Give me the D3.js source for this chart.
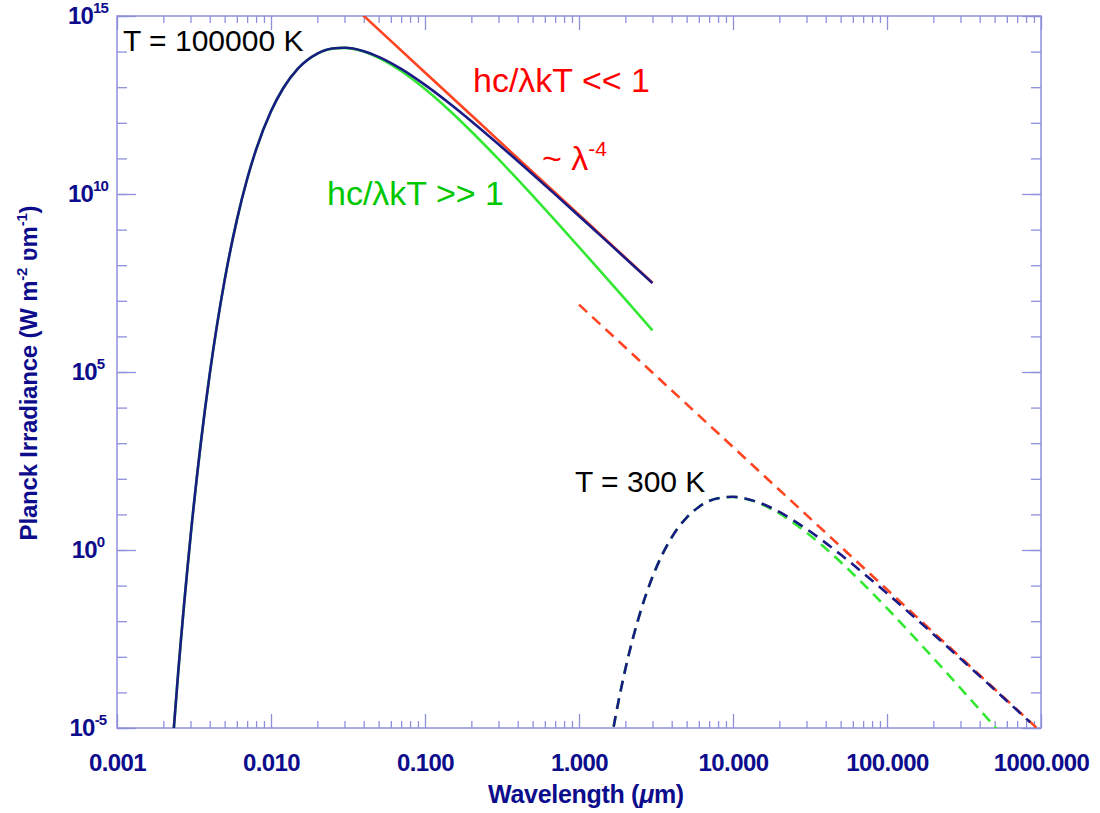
<!DOCTYPE html>
<html>
<head>
<meta charset="utf-8">
<script src="https://cdn.jsdelivr.net/npm/d3@7"></script>
<style>
  body { margin: 0; background: #fff; }
  svg { display: block; font-family: "Liberation Sans", Arial, sans-serif; }
</style>
</head>
<body>
<svg id="chart"></svg>
<script>
// wavelengths (um) and irradiance (W m-2 um-1)
const wlHot = [0.0023, 0.0025, 0.003, 0.0035, 0.004, 0.005, 0.006, 0.007, 0.008, 0.01,
    0.012, 0.015, 0.02, 0.025, 0.03, 0.04, 0.05, 0.07, 0.1, 0.15, 0.2, 0.3, 0.5, 0.7,
    1, 1.5, 2, 3];
const planckHot = [3.94e-6, 3.88e-4, 2.28, 998, 8.75e4, 3.81e7, 1.85e9, 2.64e10, 1.77e11, 2.11e12,
    9.33e12, 3.37e13, 8.79e13, 1.22e14, 1.28e14, 1.03e14, 7.13e13, 3.27e13, 1.16e13, 3.06e12,
    1.11e12, 2.50e11, 3.59e10, 9.75e9, 2.42e9, 4.90e8, 1.57e8, 3.13e7];
const wienHot = [3.94e-6, 3.88e-4, 2.28, 998, 8.75e4, 3.81e7, 1.85e9, 2.64e10, 1.77e11, 2.11e12,
    9.33e12, 3.37e13, 8.79e13, 1.21e14, 1.27e14, 1.00e14, 6.73e13, 2.85e13, 8.87e12, 1.89e12,
    5.70e11, 9.53e10, 8.97e9, 1.81e9, 3.24e8, 4.48e7, 1.09e7, 1.47e6];
const wlRjHot = [0.035, 0.1, 0.3, 1, 3];
const rjHot = [1.73e15, 2.60e13, 3.21e11, 2.60e9, 3.21e7];

const wlCold = [1.6, 1.8, 2, 2.5, 3, 4, 5, 6, 8, 10, 12, 15, 20, 30, 50, 70, 100, 150,
    200, 300, 500, 700, 850];
const planckCold = [3.42e-6, 5.32e-5, 4.51e-4, 1.78e-2, 0.175, 2.27, 8.17, 16.2, 28.5, 31.2,
    28.1, 21.0, 11.7, 3.90, 0.743, 0.226, 0.0608, 0.0131, 4.32e-3, 8.87e-4, 1.19e-4, 3.14e-5, 1.45e-5];
const wienCold = [3.42e-6, 5.32e-5, 4.51e-4, 1.78e-2, 0.175, 2.27, 8.17, 16.2, 28.4, 30.9,
    27.6, 20.1, 10.6, 3.11, 0.458, 0.112, 0.0232, 3.58e-3, 9.20e-4, 1.31e-4, 1.09e-5, 2.08e-6];
const wlRjCold = [1, 10, 100, 1000];
const rjCold = [7.80e6, 780, 0.078, 7.80e-6];

const xMajor = [0.001, 0.01, 0.1, 1, 10, 100, 1000];
const yMajorExp = [15, 10, 5, 0, -5];

const width = 1100, height = 813;
const plotLeft = 117, plotRight = 1041, plotTop = 16, plotBottom = 728;

const axisColor = "#8f8fdc";
const labelColor = "#0c0c8c";
const navy = "#1b1b86";
const red = "#ff4422";
const green = "#33e833";

let svg = d3.select("#chart")
    .attr("width", width)
    .attr("height", height)
    .attr("viewBox", [0, 0, width, height]);

let x = d3.scaleLog().domain([0.001, 1000]).range([plotLeft, plotRight]);
let y = d3.scaleLog().domain([1e-5, 1e15]).range([plotBottom, plotTop]);

// minor ticks: 2..9 per decade on x, every decade on y
let xMinor = [];
for (let i = 0; i < xMajor.length - 1; i++) {
    for (let k = 2; k <= 9; k++) xMinor.push(xMajor[i] * k);
}
let yMinor = d3.range(-5, 16).map(e => Math.pow(10, e));
let yMajor = yMajorExp.map(e => Math.pow(10, e));

function styleAxis(g) {
    g.select(".domain").remove();
    g.selectAll(".tick line").attr("stroke", axisColor).attr("stroke-width", 1.3);
}

// bottom / top
svg.append("g").attr("transform", `translate(0,${plotBottom})`)
    .call(d3.axisBottom(x).tickValues(xMinor).tickSize(-7).tickFormat(""))
    .call(styleAxis);
let xb = svg.append("g").attr("transform", `translate(0,${plotBottom})`)
    .call(d3.axisBottom(x).tickValues(xMajor).tickSize(-14).tickPadding(26).tickFormat(d3.format(".3f")))
    .call(styleAxis);
xb.selectAll(".tick text")
    .attr("fill", labelColor)
    .attr("font-size", "24px")
    .attr("font-weight", "bold")
    .attr("letter-spacing", "-0.6px")
    .attr("font-family", "Liberation Sans, Arial, sans-serif");
svg.append("g").attr("transform", `translate(0,${plotTop})`)
    .call(d3.axisTop(x).tickValues(xMinor).tickSize(-7).tickFormat(""))
    .call(styleAxis);
svg.append("g").attr("transform", `translate(0,${plotTop})`)
    .call(d3.axisTop(x).tickValues(xMajor).tickSize(-14).tickFormat(""))
    .call(styleAxis);

// left / right
svg.append("g").attr("transform", `translate(${plotLeft},0)`)
    .call(d3.axisLeft(y).tickValues(yMinor).tickSize(-10).tickFormat(""))
    .call(styleAxis);
svg.append("g").attr("transform", `translate(${plotLeft},0)`)
    .call(d3.axisLeft(y).tickValues(yMajor).tickSize(-19).tickFormat(""))
    .call(styleAxis);
svg.append("g").attr("transform", `translate(${plotRight},0)`)
    .call(d3.axisRight(y).tickValues(yMinor).tickSize(-10).tickFormat(""))
    .call(styleAxis);
svg.append("g").attr("transform", `translate(${plotRight},0)`)
    .call(d3.axisRight(y).tickValues(yMajor).tickSize(-19).tickFormat(""))
    .call(styleAxis);

// frame
svg.append("rect")
    .attr("x", plotLeft).attr("y", plotTop)
    .attr("width", plotRight - plotLeft).attr("height", plotBottom - plotTop)
    .attr("fill", "none").attr("stroke", axisColor).attr("stroke-width", 1.5);

// y tick labels 10^n
let yl = svg.append("g")
    .attr("fill", labelColor)
    .attr("font-weight", "bold")
    .attr("text-anchor", "middle");
yMajorExp.forEach(e => {
    let t = yl.append("text")
        .attr("x", 88)
        .attr("y", y(Math.pow(10, e)) + 8)
        .attr("font-size", "24px")
        .attr("letter-spacing", "-0.8px");
    t.append("tspan").text("10");
    t.append("tspan").attr("dy", -11).attr("font-size", "15px").text(e);
});

// axis titles
svg.append("text")
    .attr("x", 586).attr("y", 803)
    .attr("text-anchor", "middle")
    .attr("fill", labelColor)
    .attr("font-weight", "bold")
    .attr("font-size", "25px")
    .attr("letter-spacing", "-0.3px")
    .html('Wavelength (<tspan font-style="italic">μ</tspan>m)');

let yt = svg.append("text")
    .attr("transform", "translate(37,373) rotate(-90)")
    .attr("text-anchor", "middle")
    .attr("fill", labelColor)
    .attr("font-weight", "bold")
    .attr("font-size", "24px")
    .attr("letter-spacing", "-0.2px");
yt.append("tspan").text("Planck Irradiance (W m");
yt.append("tspan").attr("dy", -10).attr("font-size", "15px").text("-2");
yt.append("tspan").attr("dy", 10).text(" ʋm");
yt.append("tspan").attr("dy", -10).attr("font-size", "15px").text("-1");
yt.append("tspan").attr("dy", 10).text(")");

// curves
svg.append("clipPath").attr("id", "plot-clip")
    .append("rect")
    .attr("x", plotLeft).attr("y", plotTop)
    .attr("width", plotRight - plotLeft).attr("height", plotBottom - plotTop);

let line = d3.line()
    .x(d => x(d[0]))
    .y(d => y(d[1]))
    .curve(d3.curveMonotoneX);

let plot = svg.append("g").attr("clip-path", "url(#plot-clip)");

function drawCurve(wl, vals, color, dashed) {
    plot.append("path")
        .datum(vals.map((v, i) => [wl[i], v]))
        .attr("d", line)
        .attr("fill", "none")
        .attr("stroke", color)
        .attr("stroke-width", 2.6)
        .attr("stroke-dasharray", dashed ? "11,7" : null);
}

drawCurve(wlHot, wienHot, green, false);
drawCurve(wlRjHot, rjHot, red, false);
drawCurve(wlHot, planckHot, navy, false);
drawCurve(wlCold, wienCold, green, true);
drawCurve(wlRjCold, rjCold, red, true);
drawCurve(wlCold, planckCold, navy, true);

// annotations
function note(txt, px, py, color, size) {
    return svg.append("text")
        .attr("x", px).attr("y", py)
        .attr("fill", color)
        .attr("font-size", size)
        .text(txt);
}
note("T = 100000 K", 123, 51, "#000", "30px");
note("T = 300 K", 575, 492, "#000", "30px");
note("hc/λkT << 1", 473, 92, "#ff0000", "34px");
note("hc/λkT >> 1", 327, 205, "#00c800", "34px");
let lam = note("~ λ", 542, 170, "#ff0000", "34px");
lam.append("tspan").attr("dy", -14).attr("font-size", "21px").text("-4");
</script>
</body>
</html>
